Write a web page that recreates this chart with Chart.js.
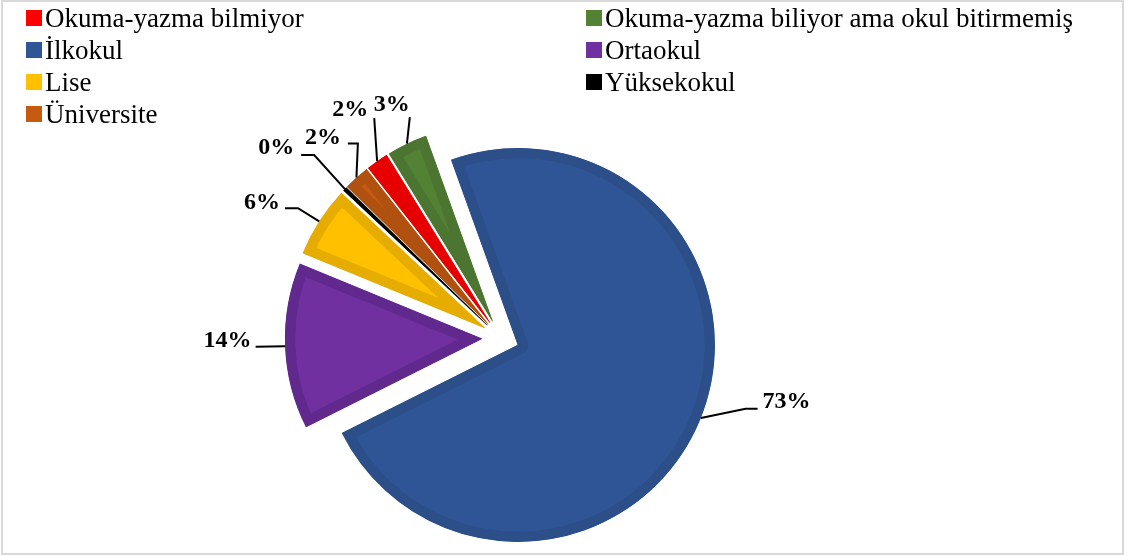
<!DOCTYPE html>
<html>
<head>
<meta charset="utf-8">
<script src="https://cdn.jsdelivr.net/npm/chart.js@4/dist/chart.umd.min.js"></script>
<style>
  html, body { margin: 0; padding: 0; background: #fff; }
  #wrap { position: relative; width: 1130px; height: 556px; overflow: hidden; }
  #frame { position: absolute; left: 1px; top: 0; width: 1123px; height: 555px; box-sizing: border-box; border: 2px solid #d9d9d9; pointer-events: none; }
  canvas { position: absolute; left: 0; top: 0; }
  #legend { position: absolute; left: 0; top: 0; width: 1130px; font-family: "Liberation Serif", "Times New Roman", serif; font-size: 27px; color: #000; }
  .item { position: absolute; height: 32px; line-height: 32px; white-space: nowrap; }
  .box { position: absolute; left: 0; top: 8px; width: 16px; height: 16px; }
  .txt { position: absolute; left: 19px; top: 0; }
</style>
</head>
<body>
<div id="wrap">
  <canvas id="c" width="1130" height="556"></canvas>
  <div id="legend"></div>
  <div id="frame"></div>
</div>
<script>
// ---- data ----
const categories = [
  "Okuma-yazma bilmiyor",
  "Okuma-yazma biliyor ama okul bitirmemiş",
  "İlkokul",
  "Ortaokul",
  "Lise",
  "Yüksekokul",
  "Üniversite"
];
const values = [1.8, 3.3, 73.1, 13.6, 5.8, 0.3, 2.1];
const fillColors   = ["#FF0000", "#548235", "#2F5597", "#7030A0", "#FFC000", "#000000", "#C55A11"];
const borderColors = ["#E60000", "#4B7530", "#2C4F8A", "#61298E", "#E6AD00", "#000000", "#B1510F"];

// ---- label layout (nudges relative to each slice) ----
// shift: degrees from slice mid-angle, dist: distance of text centre from pie centre
const labelLayout = [
  { shift: 1.5,  dist: 273, side: "L", tx: 6, ty: 8,  elbow: 0 },
  { shift: 0.7,  dist: 257, side: "L", tx: 0, ty: 12, elbow: 0 },
  { shift: -9.2, dist: 293, side: "R", tx: 5, ty: 7,  elbow: 12 },
  { shift: 1.6,  dist: 273, side: "L", tx: 4, ty: 6,  elbow: 0 },
  { shift: -3.3, dist: 274, side: "L", tx: 5, ty: 5,  elbow: 13 },
  { shift: -3.5, dist: 294, side: "L", tx: 7, ty: 7,  elbow: 13 },
  { shift: 0.4,  dist: 268, side: "L", tx: 7, ty: 6,  elbow: 10 }
];

const EXPLODE = 18.7;

const explodePlugin = {
  id: "explode",
  beforeDatasetDraw(chart, args) {
    const ctx = chart.ctx;
    args.meta.data.forEach(arc => {
      const mid = (arc.startAngle + arc.endAngle) / 2;
      ctx.save();
      ctx.translate(Math.cos(mid) * EXPLODE, Math.sin(mid) * EXPLODE);
      arc.draw(ctx);
      ctx.restore();
    });
    return false;
  }
};

const labelPlugin = {
  id: "pctLabels",
  afterDatasetsDraw(chart) {
    const ctx = chart.ctx;
    const meta = chart.getDatasetMeta(0);
    const data = chart.data.datasets[0].data;
    ctx.save();
    ctx.font = "bold 24px 'Liberation Serif', 'Times New Roman', serif";
    ctx.fillStyle = "#000";
    ctx.strokeStyle = "#000";
    ctx.lineWidth = 2;
    ctx.textAlign = "center";
    ctx.textBaseline = "middle";
    meta.data.forEach((arc, i) => {
      const L = labelLayout[i];
      const mid = (arc.startAngle + arc.endAngle) / 2;
      const r = arc.outerRadius + EXPLODE;
      const ax = arc.x + Math.cos(mid) * r;
      const ay = arc.y + Math.sin(mid) * r;
      const a2 = mid + L.shift * Math.PI / 180;
      const cx = arc.x + Math.cos(a2) * L.dist;
      const cy = arc.y + Math.sin(a2) * L.dist;
      const text = Math.round(data[i]) + "%";
      const w = ctx.measureText(text).width;
      let tX, eX;
      if (L.side === "R") {
        tX = cx - w / 2 - L.tx;
        eX = tX - L.elbow;
      } else {
        tX = cx + w / 2 + L.tx;
        eX = tX + L.elbow;
      }
      const tY = cy + L.ty;
      ctx.beginPath();
      ctx.moveTo(ax, ay);
      ctx.lineTo(eX, tY);
      ctx.lineTo(tX, tY);
      ctx.stroke();
      ctx.fillText(text, cx, cy);
    });
    ctx.restore();
  }
};

const chart = new Chart(document.getElementById("c"), {
  type: "pie",
  data: {
    labels: categories,
    datasets: [{
      data: values,
      backgroundColor: fillColors,
      borderColor: borderColors,
      borderWidth: 10,
      borderAlign: "inner",
      clip: false
    }]
  },
  options: {
    responsive: false,
    animation: false,
    events: [],
    rotation: -38.16,
    radius: 197,
    layout: { padding: { left: 300, right: 428.8, top: 140, bottom: 20 } },
    plugins: {
      legend: { display: false },
      tooltip: { enabled: false }
    }
  },
  plugins: [explodePlugin, labelPlugin]
});

// HTML legend built from the chart's own legend items
const legendEl = document.getElementById("legend");
const items = chart.options.plugins.legend.labels.generateLabels(chart);
items.forEach((it, i) => {
  const row = Math.floor(i / 2), col = i % 2;
  const d = document.createElement("div");
  d.className = "item";
  d.style.left = (col === 0 ? 26 : 586) + "px";
  d.style.top = (2 + row * 32) + "px";
  const b = document.createElement("span");
  b.className = "box";
  b.style.background = fillColors[i];
  const t = document.createElement("span");
  t.className = "txt";
  t.textContent = it.text;
  d.appendChild(b); d.appendChild(t);
  legendEl.appendChild(d);
});
</script>
</body>
</html>
